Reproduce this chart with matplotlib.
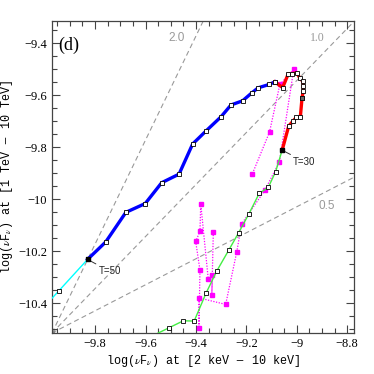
import matplotlib
matplotlib.use('Agg')
import matplotlib.pyplot as plt
from matplotlib.ticker import MultipleLocator, FuncFormatter

plt.rcParams['mathtext.fontset'] = 'stix'

# tracks in the X-ray / TeV flux plane (log nuF_nu)
cyan_x = [-10.02, -9.944, -9.830]
cyan_y = [-10.433, -10.353, -10.232]

blue_x = [-9.830, -9.758, -9.678, -9.601, -9.536, -9.467, -9.413, -9.360,
          -9.300, -9.261, -9.215, -9.179, -9.153, -9.109, -9.087]
blue_y = [-10.232, -10.165, -10.051, -10.017, -9.937, -9.904, -9.788, -9.738,
          -9.683, -9.638, -9.622, -9.592, -9.572, -9.559, -9.549]

red_x = [-9.087, -9.056, -9.034, -9.018, -9.000, -8.987, -8.977, -8.974,
         -8.974, -8.979, -8.986, -9.002, -9.014, -9.032, -9.058]
red_y = [-9.549, -9.571, -9.519, -9.517, -9.514, -9.536, -9.546, -9.564,
         -9.583, -9.610, -9.686, -9.686, -9.699, -9.719, -9.812]

green_x = [-9.058, -9.084, -9.113, -9.149, -9.190, -9.231, -9.269, -9.317,
           -9.360, -9.407, -9.450, -9.507, -9.583]
green_y = [-9.812, -9.895, -9.955, -9.978, -10.057, -10.130, -10.195, -10.276,
           -10.362, -10.469, -10.468, -10.495, -10.531]

mag_x = [-9.331, -9.337, -9.335, -9.351, -9.381, -9.384, -9.401, -9.384, -9.388,
         -9.388, -9.282, -9.238, -9.219, -9.126, -9.069, -9.012, -9.067, -9.108, -9.177]
mag_y = [-10.127, -10.370, -10.293, -10.309, -10.017, -10.124, -10.163, -10.273, -10.495,
         -10.380, -10.405, -10.203, -10.096, -9.965, -9.857, -9.501, -9.559, -9.742, -9.905]

t50 = (-9.830, -10.232)
t30 = (-9.058, -9.812)
gray_pt = (-8.979, -9.610)

# reference slopes drawn from the lower-left corner
slopes = [2.0, 1.0, 0.5]
slope_labels = ['2.0', '1.0', '0.5']
label_pos = [(-9.475, -9.381), (-8.92, -9.381), (-8.88, -10.027)]

xlim = (-9.971, -8.773)
ylim = (-10.515, -9.315)

fig = plt.figure(figsize=(3.74, 3.74), dpi=100)
ax = fig.add_axes([0.139, 0.1096, 0.8075, 0.8343])

x0, y0 = xlim[0], ylim[0]
for s in slopes:
    ax.plot([x0, x0 + 3], [y0, y0 + 3 * s], color='#999999', lw=0.8,
            dashes=(4.5, 3), zorder=1)
ax.plot([x0], [y0], 's', color='#888888', ms=3.5, zorder=2)

fonts = ['Liberation Sans', 'Liberation Serif', 'Liberation Sans']
for lab, (lx, ly), fn in zip(slope_labels, label_pos, fonts):
    ax.text(lx, ly, lab, color='#999999', fontsize=8.5, family=fn,
            ha='center', va='center')

sq = dict(marker='s', ms=3.2, mfc='white', mec='black', mew=0.6)
ax.plot(mag_x, mag_y, color='magenta', lw=0.9, ls=(0, (1, 1.2)),
        marker='s', ms=2.5, mfc='magenta', mec='magenta', zorder=3)
ax.plot(cyan_x, cyan_y, color='cyan', lw=1.0, zorder=4, **sq)
ax.plot(green_x, green_y, color='#44ee44', lw=1.0, zorder=4, **sq)
ax.plot(blue_x, blue_y, color='blue', lw=2.4, zorder=5, **sq)
ax.plot(red_x, red_y, color='red', lw=2.4, zorder=5, **sq)

ax.plot(*t50, 's', color='black', ms=3.4, zorder=6)
ax.plot(*t30, 's', color='black', ms=3.4, zorder=6)
ax.plot(*gray_pt, 's', color='#666666', mec='black', mew=0.5, ms=3.4, zorder=6)

ax.annotate('T=50', xy=t50, xytext=(t50[0] + 0.044, t50[1] - 0.046),
            fontsize=7, family='Liberation Sans', va='center', color='#222222',
            arrowprops=dict(arrowstyle='-', color='#333333', lw=0.7,
                            shrinkA=0, shrinkB=1))
ax.annotate('T=30', xy=t30, xytext=(t30[0] + 0.044, t30[1] - 0.044),
            fontsize=7, family='Liberation Sans', va='center', color='#222222',
            arrowprops=dict(arrowstyle='-', color='#333333', lw=0.7,
                            shrinkA=0, shrinkB=1))

ax.text(0.02, 0.95, '(d)', transform=ax.transAxes, fontsize=13,
        family='Liberation Serif', va='top', ha='left')

ax.set_xlim(*xlim)
ax.set_ylim(*ylim)
ax.xaxis.set_major_locator(MultipleLocator(0.2))
ax.xaxis.set_minor_locator(MultipleLocator(0.05))
ax.yaxis.set_major_locator(MultipleLocator(0.2))
ax.yaxis.set_minor_locator(MultipleLocator(0.05))
fmt = FuncFormatter(lambda v, p: ('%g' % round(v, 2)).replace('-', '\u2212'))
ax.xaxis.set_major_formatter(fmt)
ax.yaxis.set_major_formatter(fmt)

ax.tick_params(which='both', direction='in', top=True, right=True,
               color='#444444', width=0.8, labelsize=9)
ax.tick_params(which='major', length=6)
ax.tick_params(which='minor', length=3.5)
for lab in ax.get_xticklabels() + ax.get_yticklabels():
    lab.set_family('Liberation Serif')
for sp in ax.spines.values():
    sp.set_color('#444444')
    sp.set_linewidth(0.9)

ax.set_xlabel(r'log($\nu$F$_\nu$) at [2 keV $-$ 10 keV]', family='Liberation Mono',
              fontsize=8.5, labelpad=2)
ax.set_ylabel(r'log($\nu$F$_\nu$) at [1 TeV $-$ 10 TeV]', family='Liberation Mono',
              fontsize=8.5, labelpad=2)

fig.savefig('out.png', dpi=100)
